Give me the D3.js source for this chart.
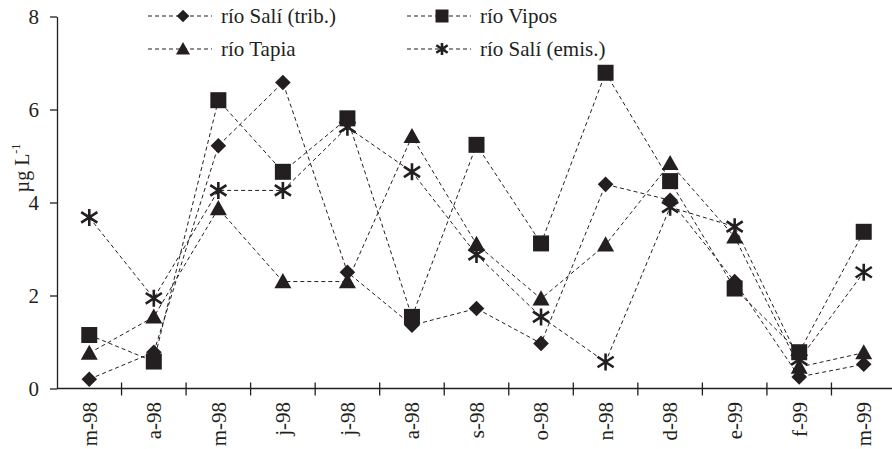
<!DOCTYPE html>
<html>
<head>
<meta charset="utf-8">
<script src="https://cdn.jsdelivr.net/npm/d3@7/dist/d3.min.js"></script>
<style>
  html, body { margin: 0; padding: 0; background: #fff; }
  svg { display: block; }
</style>
</head>
<body>
<svg id="chart" width="892" height="449"></svg>
<script>
// Monthly concentrations (µg L-1), March 1998 – March 1999
const months = ["m-98", "a-98", "m-98 ", "j-98", "j-98 ", "a-98 ", "s-98", "o-98", "n-98", "d-98", "e-99", "f-99", "m-99"];
const monthLabels = ["m-98", "a-98", "m-98", "j-98", "j-98", "a-98", "s-98", "o-98", "n-98", "d-98", "e-99", "f-99", "m-99"];

const saliTrib  = [0.2, 0.78, 5.22, 6.58, 2.5, 1.36, 1.72, 0.97, 4.39, 4.05, 2.3, 0.25, 0.52];
const vipos     = [1.15, 0.58, 6.2, 4.66, 5.81, 1.54, 5.24, 3.12, 6.79, 4.46, 2.15, 0.78, 3.37];
const tapia     = [0.76, 1.54, 3.87, 2.3, 2.3, 5.42, 3.1, 1.93, 3.09, 4.84, 3.26, 0.46, 0.77];
const saliEmis  = [3.68, 1.94, 4.26, 4.26, 5.62, 4.66, 2.88, 1.54, 0.57, 3.9, 3.48, 0.62, 2.5];

const yTicks = [0, 2, 4, 6, 8];

const series = [
  { name: "río Tapia",         values: tapia,    shape: "triangle" },
  { name: "río Salí (emis.)",  values: saliEmis, shape: "asterisk" },
  { name: "río Salí (trib.)",  values: saliTrib, shape: "diamond" },
  { name: "río Vipos",         values: vipos,    shape: "square" }
];

const ink = "#231f20";
const serif = '"Liberation Serif", "Times New Roman", serif';
const svg = d3.select("#chart");

const x = d3.scaleBand().domain(months).range([57, 896]).padding(0);
const y = d3.scaleLinear().domain([0, 8]).range([388.5, 16.5]);

// y axis
const yAxis = svg.append("g").attr("transform", "translate(57,0)")
  .call(d3.axisLeft(y).tickValues(yTicks).tickSize(7).tickPadding(11).tickSizeOuter(0));
yAxis.select(".domain").attr("stroke", ink).attr("stroke-width", 1.3);
yAxis.selectAll(".tick line").attr("stroke", ink).attr("stroke-width", 1.3);
yAxis.selectAll(".tick text")
  .style("font-family", serif).style("font-size", "21px").attr("fill", ink);

// x axis: boundary ticks crossing the axis line
const xg = svg.append("g");
xg.append("line").attr("x1", 57).attr("x2", 892).attr("y1", y(0)).attr("y2", y(0))
  .attr("stroke", ink).attr("stroke-width", 1.3);
const bounds = months.map(m => x(m)).concat([x(months[months.length - 1]) + x.bandwidth()]);
xg.selectAll("line.tk").data(bounds.slice(1)).join("line").attr("class", "tk")
  .attr("x1", d => d).attr("x2", d => d)
  .attr("y1", y(0) - 6).attr("y2", y(0) + 7)
  .attr("stroke", ink).attr("stroke-width", 1.3);
xg.selectAll("text").data(months).join("text")
  .attr("transform", d => `translate(${x(d) + x.bandwidth() / 2},402) rotate(-90)`)
  .attr("text-anchor", "end").attr("dy", "0.35em").attr("fill", ink)
  .style("font-family", serif).style("font-size", "21px")
  .text((d, i) => monthLabels[i]);

// y axis title
const yt = svg.append("text")
  .attr("transform", "translate(22,168) rotate(-90)")
  .attr("text-anchor", "middle").attr("dy", "0.35em").attr("fill", ink)
  .style("font-family", serif).style("font-size", "20px");
yt.append("tspan").text("µg L");
yt.append("tspan").style("font-size", "12px").attr("dy", "-0.75em").text("-1");

// marker shapes
function drawMarker(g, shape, s) {
  if (shape === "asterisk") {
    const r = s;
    const p = `M0,${-r}L0,${r}M${-r * 0.95},${-r * 0.62}L${r * 0.95},${r * 0.62}M${-r * 0.95},${r * 0.62}L${r * 0.95},${-r * 0.62}`;
    g.append("path").attr("d", p).attr("stroke", ink).attr("stroke-width", 2.6).attr("fill", "none");
  } else if (shape === "diamond") {
    g.append("path").attr("d", `M0,${-s}L${s},0L0,${s}L${-s},0Z`).attr("fill", ink);
  } else if (shape === "square") {
    g.append("rect").attr("x", -s).attr("y", -s).attr("width", 2 * s).attr("height", 2 * s).attr("fill", ink);
  } else if (shape === "triangle") {
    g.append("path").attr("d", `M0,${-s}L${s},${s * 0.78}L${-s},${s * 0.78}Z`).attr("fill", ink);
  }
}

const cx = (i) => x(months[i]) + x.bandwidth() / 2;
const line = d3.line().x((d, i) => cx(i)).y(d => y(d));

// dashed lines first, then markers
series.forEach(s => {
  svg.append("path").datum(s.values).attr("d", line)
    .attr("fill", "none").attr("stroke", ink).attr("stroke-width", 1)
    .attr("stroke-dasharray", "4,3");
});
const sizes = { diamond: 7.8, square: 8, triangle: 8.5, asterisk: 8.5 };
series.forEach(s => {
  s.values.forEach((v, i) => {
    const g = svg.append("g").attr("transform", `translate(${cx(i)},${y(v)})`);
    drawMarker(g, s.shape, sizes[s.shape]);
  });
});

// legend
const legend = [
  { name: "río Salí (trib.)", shape: "diamond",  x: 148, y: 16 },
  { name: "río Vipos",        shape: "square",   x: 407, y: 16 },
  { name: "río Tapia",        shape: "triangle", x: 148, y: 49 },
  { name: "río Salí (emis.)", shape: "asterisk", x: 407, y: 49 }
];
const lsz = { diamond: 6.3, square: 6.5, triangle: 7, asterisk: 6 };
legend.forEach(l => {
  const g = svg.append("g").attr("transform", `translate(${l.x},${l.y})`);
  g.append("line").attr("x1", 0).attr("x2", 64).attr("y1", 0).attr("y2", 0)
    .attr("stroke", ink).attr("stroke-width", 1.1).attr("stroke-dasharray", "4,3");
  const m = g.append("g").attr("transform", "translate(35,0)");
  drawMarker(m, l.shape, lsz[l.shape]);
  g.append("text").attr("x", 73).attr("dy", "0.33em").attr("fill", ink)
    .style("font-family", serif).style("font-size", "21px").text(l.name);
});
</script>
</body>
</html>
